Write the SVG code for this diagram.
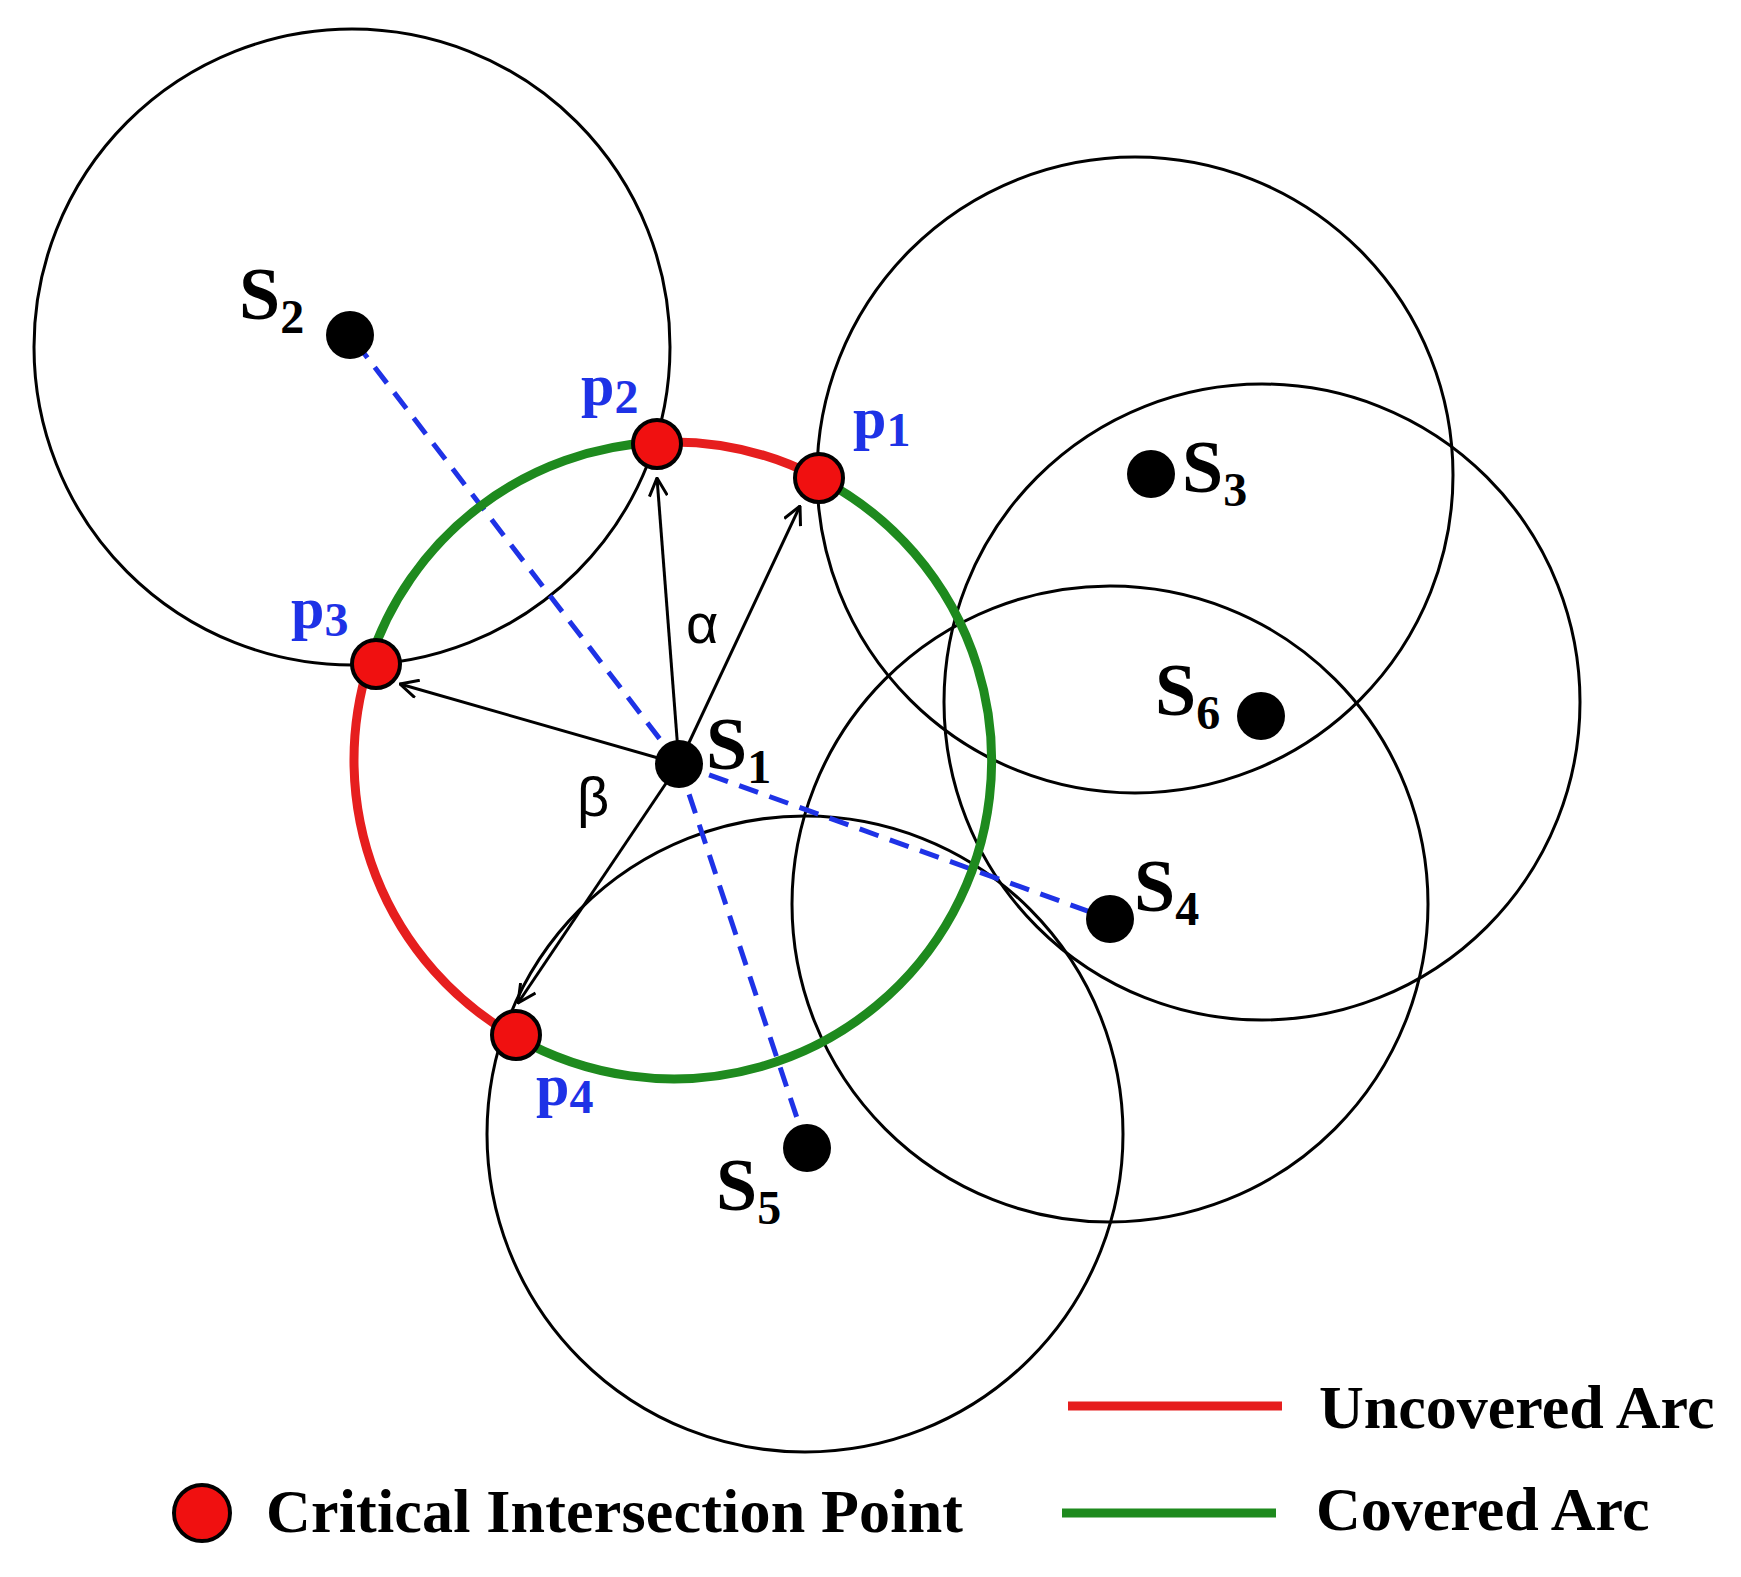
<svg xmlns="http://www.w3.org/2000/svg" width="1741" height="1577" viewBox="0 0 1741 1577">
<style>
.c{fill:none;stroke:#000;stroke-width:3}
.d{fill:none;stroke:#1e32e6;stroke-width:5;stroke-dasharray:20,12}
.a{stroke:#000;stroke-width:3;fill:none;marker-end:url(#ah)}
.r{fill:none;stroke:#e61e1e;stroke-width:9}
.g{fill:none;stroke:#1e8a1e;stroke-width:9}
.n{fill:#000}
.cp{fill:#f01010;stroke:#000;stroke-width:4}
.t{font-family:"Liberation Serif",serif;font-weight:bold;font-size:74px;fill:#000}
.sub{font-size:48px}
.p{font-family:"Liberation Serif",serif;font-weight:bold;font-size:60px;fill:#1e32e6}
.gr{font-family:"Liberation Sans",sans-serif;font-size:56px;fill:#000}
.l{font-family:"Liberation Serif",serif;font-weight:bold;font-size:62px;fill:#000}
</style>
<defs><marker id="ah" viewBox="0 0 20 20" refX="19" refY="10" markerWidth="20" markerHeight="20" markerUnits="userSpaceOnUse" orient="auto"><path d="M1,1 L19,10 L1,19" fill="none" stroke="#000" stroke-width="3"/></marker></defs>
<g id="circles">
<circle class="c" cx="352" cy="347" r="318"/>
<circle class="c" cx="1135" cy="475" r="318"/>
<circle class="c" cx="1262" cy="702" r="318"/>
<circle class="c" cx="1110" cy="904" r="318"/>
<circle class="c" cx="805" cy="1134" r="318"/>
</g>
<g id="connectors">
<line class="d" x1="679" y1="764" x2="350" y2="335"/>
<line class="d" x1="679" y1="764" x2="1110" y2="919"/>
<line class="d" x1="679" y1="764" x2="807" y2="1148"/>
<line class="a" x1="679" y1="764" x2="657" y2="478"/>
<line class="a" x1="679" y1="764" x2="800" y2="506"/>
<line class="a" x1="679" y1="764" x2="400" y2="684"/>
<line class="a" x1="679" y1="764" x2="518" y2="1003"/>
</g>
<g id="arcs">
<path class="r" d="M657,442.3 A318,318 0 0 1 819.3,478.2"/>
<path class="g" d="M819.3,478.2 A318,318 0 1 1 515.9,1037"/>
<path class="r" d="M515.9,1037 A318,318 0 0 1 369.2,662.8"/>
<path class="g" d="M369.2,662.8 A318,318 0 0 1 657,442.3"/>
</g>
<g id="sensors">
<circle class="n" cx="679" cy="764" r="24"/>
<circle class="n" cx="350" cy="335" r="24"/>
<circle class="n" cx="1151" cy="474" r="24"/>
<circle class="n" cx="1261" cy="716" r="24"/>
<circle class="n" cx="1110" cy="919" r="24"/>
<circle class="n" cx="807" cy="1148" r="24"/>
</g>
<g id="points">
<circle class="cp" cx="657" cy="444" r="24"/>
<circle class="cp" cx="819" cy="478" r="24"/>
<circle class="cp" cx="376" cy="664" r="24"/>
<circle class="cp" cx="516" cy="1035" r="24"/>
</g>
<g id="labels">
<text class="t" x="239" y="319">S<tspan class="sub" dy="14">2</tspan></text>
<text class="t" x="706" y="769">S<tspan class="sub" dy="14">1</tspan></text>
<text class="t" x="1182" y="492">S<tspan class="sub" dy="14">3</tspan></text>
<text class="t" x="1155" y="715">S<tspan class="sub" dy="14">6</tspan></text>
<text class="t" x="1134" y="911">S<tspan class="sub" dy="14">4</tspan></text>
<text class="t" x="716" y="1210">S<tspan class="sub" dy="14">5</tspan></text>
<text class="p" x="581" y="405">p<tspan class="sub" dy="8">2</tspan></text>
<text class="p" x="853" y="438">p<tspan class="sub" dy="8">1</tspan></text>
<text class="p" x="291" y="628">p<tspan class="sub" dy="8">3</tspan></text>
<text class="p" x="536" y="1105">p<tspan class="sub" dy="8">4</tspan></text>
<text class="gr" x="686" y="643">α</text>
<text class="gr" x="577" y="816">β</text>
</g>
<g id="legend">
<line x1="1068" y1="1406" x2="1282" y2="1406" stroke="#e61e1e" stroke-width="9"/>
<text class="l" x="1319" y="1428">Uncovered Arc</text>
<line x1="1062" y1="1513" x2="1276" y2="1513" stroke="#1e8a1e" stroke-width="9"/>
<text class="l" x="1316" y="1530">Covered Arc</text>
<circle class="cp" cx="202" cy="1513" r="28"/>
<text class="l" x="266" y="1532" textLength="697">Critical Intersection Point</text>
</g>
</svg>
